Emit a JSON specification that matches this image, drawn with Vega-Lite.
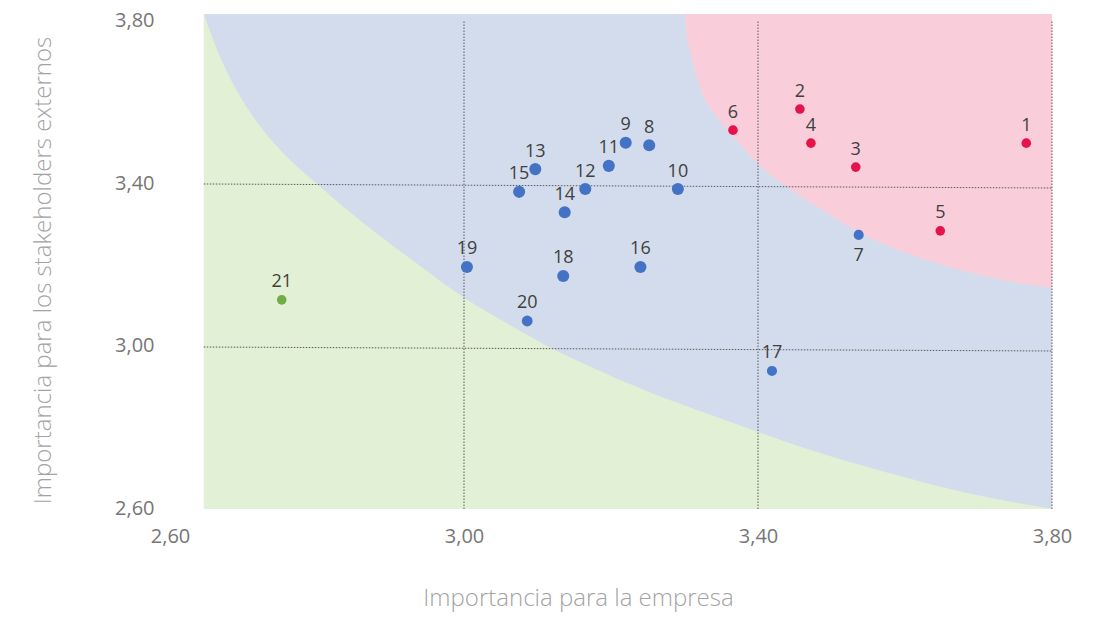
{
  "$schema": "https://vega.github.io/schema/vega-lite/v6.json",
  "width": 882,
  "height": 495,
  "autosize": {"type": "none"},
  "padding": {"left": 170, "top": 14, "right": 44, "bottom": 109},
  "background": "white",
  "config": {"view": {"stroke": null}, "font": "Open Sans"},
  "datasets": {
    "fondo": [{"x": 2.646, "x2": 3.8, "y": 2.598, "y2": 3.817}],
    "curva_baja": [
      {"x": 2.6463, "y": 3.817},
      {"x": 2.6599, "y": 3.7481},
      {"x": 2.6762, "y": 3.6791},
      {"x": 2.6966, "y": 3.6101},
      {"x": 2.7224, "y": 3.5412},
      {"x": 2.7592, "y": 3.4649},
      {"x": 2.8000, "y": 3.3984},
      {"x": 2.8612, "y": 3.3048},
      {"x": 2.9293, "y": 3.2112},
      {"x": 2.9986, "y": 3.1201},
      {"x": 3.0599, "y": 3.0536},
      {"x": 3.1211, "y": 2.9920},
      {"x": 3.1850, "y": 2.9378},
      {"x": 3.2762, "y": 2.8689},
      {"x": 3.3211, "y": 2.8393},
      {"x": 3.4000, "y": 2.7876},
      {"x": 3.5020, "y": 2.7261},
      {"x": 3.5932, "y": 2.6793},
      {"x": 3.6844, "y": 2.6374},
      {"x": 3.8000, "y": 2.5985}
    ],
    "curva_alta": [
      {"x": 3.3007, "y": 3.817},
      {"x": 3.3020, "y": 3.7776},
      {"x": 3.3075, "y": 3.7283},
      {"x": 3.3156, "y": 3.6668},
      {"x": 3.3252, "y": 3.6175},
      {"x": 3.3415, "y": 3.5683},
      {"x": 3.3619, "y": 3.5239},
      {"x": 3.3823, "y": 3.4821},
      {"x": 3.3986, "y": 3.4501},
      {"x": 3.4395, "y": 3.3910},
      {"x": 3.4939, "y": 3.3269},
      {"x": 3.5388, "y": 3.2777},
      {"x": 3.5837, "y": 3.2407},
      {"x": 3.6299, "y": 3.2112},
      {"x": 3.6748, "y": 3.1866},
      {"x": 3.7197, "y": 3.1669},
      {"x": 3.7633, "y": 3.1521},
      {"x": 3.8000, "y": 3.1422}
    ],
    "rejilla": [
      {"x": 3.0, "x2": 3.0, "y": 2.598, "y2": 3.8},
      {"x": 3.4, "x2": 3.4, "y": 2.598, "y2": 3.8},
      {"x": 3.8, "x2": 3.8, "y": 2.598, "y2": 3.8},
      {"x": 2.646, "x2": 3.8, "y": 3.3984, "y2": 3.3885},
      {"x": 2.646, "x2": 3.8, "y": 2.9969, "y2": 2.9871}
    ],
    "temas": [
      {"id": 1, "x": 3.765, "y": 3.499, "prioridad": "Alta", "serie": "A"},
      {"id": 2, "x": 3.457, "y": 3.583, "prioridad": "Alta", "serie": "A"},
      {"id": 3, "x": 3.533, "y": 3.440, "prioridad": "Alta", "serie": "A"},
      {"id": 4, "x": 3.472, "y": 3.499, "prioridad": "Alta", "serie": "A"},
      {"id": 5, "x": 3.648, "y": 3.283, "prioridad": "Alta", "serie": "A"},
      {"id": 6, "x": 3.366, "y": 3.531, "prioridad": "Alta", "serie": "A"},
      {"id": 7, "x": 3.537, "y": 3.273, "prioridad": "Media", "serie": "C"},
      {"id": 8, "x": 3.252, "y": 3.494, "prioridad": "Media", "serie": "B"},
      {"id": 9, "x": 3.220, "y": 3.500, "prioridad": "Media", "serie": "B"},
      {"id": 10, "x": 3.291, "y": 3.386, "prioridad": "Media", "serie": "B"},
      {"id": 11, "x": 3.197, "y": 3.443, "prioridad": "Media", "serie": "B"},
      {"id": 12, "x": 3.165, "y": 3.386, "prioridad": "Media", "serie": "B"},
      {"id": 13, "x": 3.097, "y": 3.435, "prioridad": "Media", "serie": "B"},
      {"id": 14, "x": 3.137, "y": 3.329, "prioridad": "Media", "serie": "B"},
      {"id": 15, "x": 3.075, "y": 3.379, "prioridad": "Media", "serie": "B"},
      {"id": 16, "x": 3.240, "y": 3.194, "prioridad": "Media", "serie": "B"},
      {"id": 17, "x": 3.419, "y": 2.938, "prioridad": "Media", "serie": "C"},
      {"id": 18, "x": 3.135, "y": 3.172, "prioridad": "Media", "serie": "B"},
      {"id": 19, "x": 3.004, "y": 3.194, "prioridad": "Media", "serie": "B"},
      {"id": 20, "x": 3.086, "y": 3.061, "prioridad": "Media", "serie": "D"},
      {"id": 21, "x": 2.752, "y": 3.113, "prioridad": "Baja", "serie": "A"}
    ]
  },
  "encoding": {
    "x": {
      "field": "x",
      "type": "quantitative",
      "scale": {"domain": [2.6, 3.8], "nice": false, "zero": false},
      "axis": {
        "title": "Importancia para la empresa",
        "values": [2.6, 3.0, 3.4, 3.8],
        "labelExpr": "replace(format(datum.value, '.2f'), '.', ',')",
        "grid": false,
        "domain": false,
        "ticks": false,
        "tickSize": 0,
        "labelFlush": false,
        "labelPadding": 33,
        "labelBaseline": "alphabetic",
        "labelFont": "Open Sans",
        "labelFontSize": 20,
        "labelColor": "#767676",
        "titleFont": "Open Sans",
        "titleFontSize": 24,
        "titleFontWeight": 300,
        "titleColor": "#a3a3a3",
        "titleX": 408,
        "titleY": 96,
        "titleAlign": "center",
        "titleBaseline": "alphabetic"
      }
    },
    "y": {
      "field": "y",
      "type": "quantitative",
      "scale": {"domain": [2.598, 3.817], "nice": false, "zero": false},
      "axis": {
        "title": "Importancia para los stakeholders externos",
        "values": [2.6, 3.0, 3.4, 3.8],
        "labelExpr": "replace(format(datum.value, '.2f'), '.', ',')",
        "grid": false,
        "domain": false,
        "ticks": false,
        "tickSize": 0,
        "labelFlush": false,
        "labelPadding": 16,
        "labelBaseline": "middle",
        "labelFont": "Open Sans",
        "labelFontSize": 20,
        "labelColor": "#767676",
        "titleFont": "Open Sans",
        "titleFontSize": 24,
        "titleFontWeight": 300,
        "titleColor": "#a3a3a3",
        "titleAngle": 270,
        "titleX": -120,
        "titleY": 256,
        "titleAlign": "center",
        "titleBaseline": "alphabetic"
      }
    }
  },
  "layer": [
    {
      "data": {"name": "fondo"},
      "mark": {"type": "rect", "color": "#D3DCEC"},
      "encoding": {"x2": {"field": "x2"}, "y2": {"field": "y2"}}
    },
    {
      "data": {"name": "curva_baja"},
      "mark": {"type": "area", "color": "#E2F0D6", "interpolate": "monotone", "opacity": 1},
      "encoding": {"y2": {"datum": 2.598}}
    },
    {
      "data": {"name": "curva_alta"},
      "mark": {"type": "area", "color": "#F9CEDA", "interpolate": "monotone", "opacity": 1},
      "encoding": {"y2": {"datum": 3.817}}
    },
    {
      "data": {"name": "rejilla"},
      "mark": {"type": "rule", "color": "#5a5a5a", "strokeWidth": 1, "strokeDash": [1.5, 1.5]},
      "encoding": {"x2": {"field": "x2"}, "y2": {"field": "y2"}}
    },
    {
      "data": {"name": "temas"},
      "transform": [{"filter": "datum.serie == 'A'"}],
      "mark": {"type": "circle", "opacity": 1, "size": 92},
      "encoding": {
        "color": {
          "field": "prioridad",
          "type": "nominal",
          "scale": {"domain": ["Alta", "Media", "Baja"], "range": ["#E5134B", "#4472C4", "#70AD47"]},
          "legend": null
        }
      }
    },
    {
      "data": {"name": "temas"},
      "transform": [{"filter": "datum.serie == 'B'"}],
      "mark": {"type": "circle", "opacity": 1, "size": 145},
      "encoding": {"color": {"field": "prioridad", "type": "nominal", "legend": null}}
    },
    {
      "data": {"name": "temas"},
      "transform": [{"filter": "datum.serie == 'C'"}],
      "mark": {"type": "circle", "opacity": 1, "size": 102},
      "encoding": {"color": {"field": "prioridad", "type": "nominal", "legend": null}}
    },
    {
      "data": {"name": "temas"},
      "transform": [{"filter": "datum.serie == 'D'"}],
      "mark": {"type": "circle", "opacity": 1, "size": 118},
      "encoding": {"color": {"field": "prioridad", "type": "nominal", "legend": null}}
    },
    {
      "data": {"name": "temas"},
      "transform": [{"filter": "datum.id != 7"}],
      "mark": {"type": "text", "font": "Open Sans", "fontSize": 18, "color": "#404040", "align": "center", "baseline": "alphabetic", "dy": -12.5},
      "encoding": {"text": {"field": "id", "type": "nominal"}}
    },
    {
      "data": {"name": "temas"},
      "transform": [{"filter": "datum.id == 7"}],
      "mark": {"type": "text", "font": "Open Sans", "fontSize": 18, "color": "#404040", "align": "center", "baseline": "alphabetic", "dy": 26},
      "encoding": {"text": {"field": "id", "type": "nominal"}}
    }
  ]
}
